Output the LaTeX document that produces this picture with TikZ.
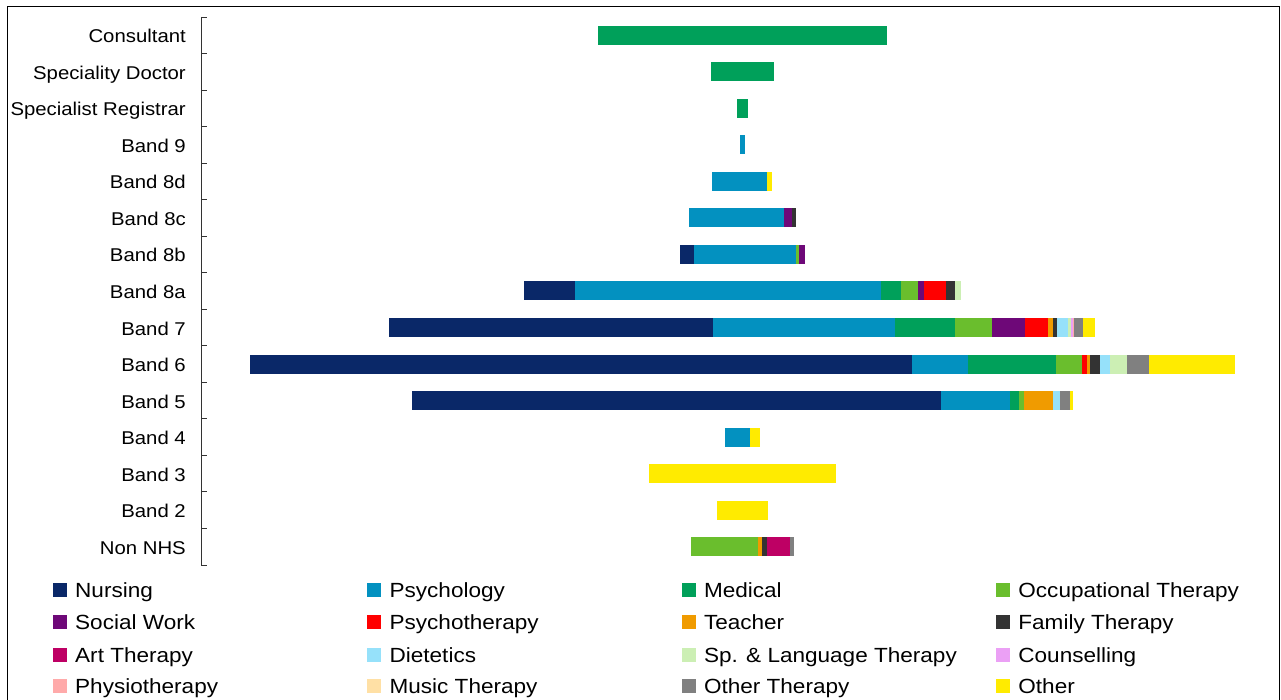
\documentclass[tikz,border=0pt]{standalone}
\usepackage{fontspec}
\setmainfont[FakeStretch=1.1]{Liberation Sans}
\definecolor{cNurs}{HTML}{0A2868}
\definecolor{cPsy}{HTML}{0391C0}
\definecolor{cMed}{HTML}{00A05A}
\definecolor{cOT}{HTML}{6ABE2D}
\definecolor{cSW}{HTML}{6E0878}
\definecolor{cPT}{HTML}{FF0000}
\definecolor{cTea}{HTML}{F09B00}
\definecolor{cFam}{HTML}{333333}
\definecolor{cArt}{HTML}{BE0064}
\definecolor{cDie}{HTML}{96E1FA}
\definecolor{cSLT}{HTML}{CCEFB4}
\definecolor{cCou}{HTML}{EBA0F5}
\definecolor{cPhy}{HTML}{FFAAAA}
\definecolor{cMus}{HTML}{FFE0A5}
\definecolor{cOTh}{HTML}{808080}
\definecolor{cOth}{HTML}{FFEB00}
\newcommand\segrow[3]{%
  \xdef\segprev{#2}%
  \foreach \c/\e in {#3}{%
    \fill[\c] (\segprev,#1-9.5) rectangle (\e,#1+9.5);
    \xdef\segprev{\e}}%
}
\tikzset{
  catlabel/.style={anchor=base east, inner sep=0pt, font=\fontsize{18.5}{20}\selectfont},
  legtext/.style={anchor=base west, inner sep=0pt, font=\fontsize{20.5}{22}\selectfont},
  legbox/.style={minimum size=14pt, inner sep=0pt, anchor=center},
}
\begin{document}
\begin{tikzpicture}[x=1pt,y=-1pt]
\useasboundingbox (0,0) rectangle (1281,700);
\clip (0,0) rectangle (1281,700);
\draw[line width=1pt] (7,710) -- (7,7) -- (1279,7) -- (1279,710);
% axis
\draw[line width=0.8pt, black!80] (201,17) -- (201,565);
\foreach \k in {0,...,15}{\draw[line width=0.8pt, black!80] (201,17+\k*36.53) -- (207,17+\k*36.53);}
% labels
\foreach \t [count=\i from 0] in {Consultant,Speciality Doctor,Specialist Registrar,Band 9,Band 8d,Band 8c,Band 8b,Band 8a,Band 7,Band 6,Band 5,Band 4,Band 3,Band 2,Non NHS}{
  \node[catlabel] (lab\i) at (186,17+\i*36.53+18.27+7.5) {\t};
}
% bars
\segrow{35.3}{598}{cMed/887}
\segrow{71.8}{711}{cMed/774}
\segrow{108.3}{737}{cMed/748}
\segrow{144.9}{740}{cPsy/745}
\segrow{181.4}{712}{cPsy/767,cOth/772.3}
\segrow{217.9}{689.3}{cPsy/784,cSW/791.7,cFam/796}
\segrow{254.5}{680}{cNurs/694,cPsy/796,cOT/799,cSW/805}
\segrow{291.0}{524}{cNurs/575,cPsy/881,cMed/901,cOT/918,cSW/924.3,cPT/946,cFam/955,cSLT/961}
\segrow{327.5}{389}{cNurs/713,cPsy/895,cMed/955,cOT/992.3,cSW/1025,cPT/1048.2,cTea/1052.5,cFam/1057.2,cDie/1067.7,cSLT/1071,cCou/1072.6,cPhy/1074.2,cOTh/1083.3,cOth/1095.3}
\segrow{364.1}{250}{cNurs/912,cPsy/968,cMed/1056,cOT/1082.3,cPT/1087.3,cTea/1090,cFam/1099.5,cDie/1110,cSLT/1127,cOTh/1148.7,cOth/1235}
\segrow{400.6}{412}{cNurs/941.3,cPsy/1009.5,cMed/1019.2,cOT/1023.7,cTea/1053,cDie/1060.3,cOTh/1069.7,cOth/1072.5}
\segrow{437.1}{725}{cPsy/749.7,cOth/759.7}
\segrow{473.7}{649.3}{cOth/835.7}
\segrow{510.2}{717.3}{cOth/768}
\segrow{546.7}{691}{cOT/757.5,cTea/762,cFam/767.2,cArt/790,cOTh/794.3}
% legend
\foreach \nm/\col [count=\j from 0] in {Nursing/cNurs,Psychology/cPsy,Medical/cMed,Occupational Therapy/cOT,Social Work/cSW,Psychotherapy/cPT,Teacher/cTea,Family Therapy/cFam,Art Therapy/cArt,Dietetics/cDie,Sp. \& Language Therapy/cSLT,Counselling/cCou,Physiotherapy/cPhy,Music Therapy/cMus,Other Therapy/cOTh,Other/cOth}{
  \pgfmathsetmacro\lx{75+mod(\j,4)*314.4}
  \pgfmathsetmacro\ly{{590,622,655,686}[int(\j/4)]}
  \node[legbox, fill=\col] (lb\j) at (\lx-15,\ly) {};
  \node[legtext] (lt\j) at (\lx,\ly+7.5) {\nm};
}
\end{tikzpicture}
\end{document}
